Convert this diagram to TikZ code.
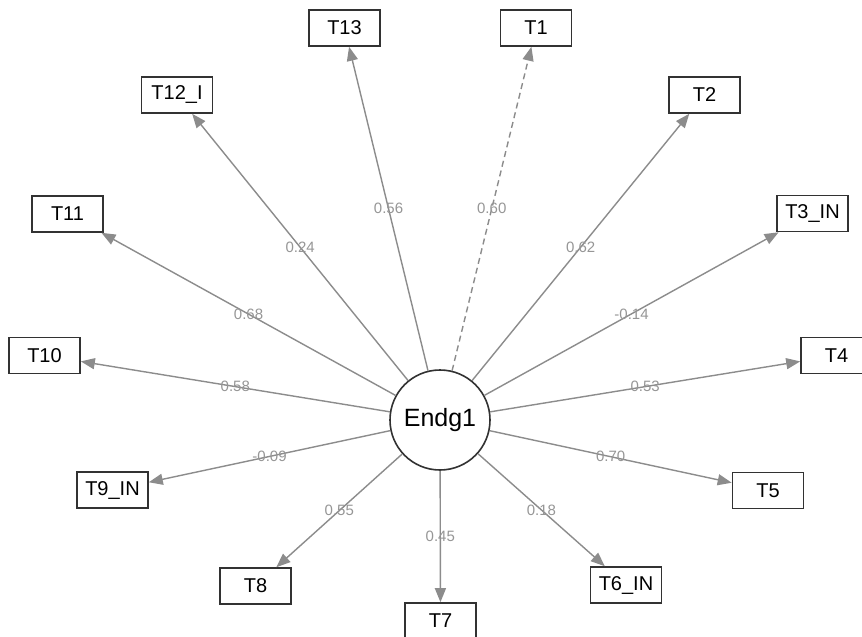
\documentclass[tikz,border=0pt]{standalone}
\usepackage{fontspec}
\setmainfont{Liberation Sans}
\usetikzlibrary{arrows.meta}
\definecolor{edgegray}{RGB}{140,140,140}
\definecolor{lblgray}{RGB}{150,150,150}
\definecolor{boxline}{RGB}{50,50,50}
\tikzset{
  obs/.style={draw=boxline, line width=1.6pt, fill=white, minimum width=71pt, minimum height=36pt, inner sep=0pt, font=\fontsize{20}{22}\selectfont},
  lat/.style={circle, draw=boxline, line width=1.6pt, fill=white, minimum size=100pt, inner sep=0pt, font=\fontsize{25}{27}\selectfont},
  edge/.style={draw=edgegray, line width=1.4pt, -{Triangle[length=14pt,width=11pt]}},
  dashedge/.style={edge, dash pattern=on 6pt off 4pt},
  lbl/.style={text=lblgray, font=\fontsize{15}{16}\selectfont, inner sep=0pt, midway}
}
\begin{document}
\begin{tikzpicture}[x=1pt,y=-1pt]
\clip (0,0) rectangle (862,637);
\fill[white] (0,0) rectangle (862,637);
\node[lat] (E) at (440,420) {Endg1};
\node[obs] (T13) at (344.5,28) {T13};
\node[obs] (T1) at (536,28) {T1};
\node[obs] (T12) at (177,95) {T12\_I};
\node[obs] (T2) at (704.5,95) {T2};
\node[obs] (T11) at (67.5,214) {T11};
\node[obs] (T3) at (812.5,213.5) {T3\_IN};
\node[obs] (T10) at (44.5,355.5) {T10};
\node[obs] (T4) at (836.5,355.5) {T4};
\node[obs] (T9) at (112.5,490) {T9\_IN};
\node[obs] (T5) at (768,490.5) {T5};
\node[obs] (T8) at (255.5,586) {T8};
\node[obs] (T6) at (626,585) {T6\_IN};
\node[obs] (T7) at (440.5,621) {T7};
\draw[edge] (E) -- node[lbl]{0.56} (T13);
\draw[dashedge] (E) -- node[lbl]{0.60} (T1);
\draw[edge] (E) -- node[lbl]{0.24} (T12);
\draw[edge] (E) -- node[lbl]{0.62} (T2);
\draw[edge] (E) -- node[lbl]{0.68} (T11);
\draw[edge] (E) -- node[lbl]{-0.14} (T3);
\draw[edge] (E) -- node[lbl]{0.58} (T10);
\draw[edge] (E) -- node[lbl]{0.53} (T4);
\draw[edge] (E) -- node[lbl]{-0.09} (T9);
\draw[edge] (E) -- node[lbl]{0.70} (T5);
\draw[edge] (E) -- node[lbl]{0.55} (T8);
\draw[edge] (E) -- node[lbl]{0.18} (T6);
\draw[edge] (E) -- node[lbl]{0.45} (T7);
\end{tikzpicture}
\end{document}
